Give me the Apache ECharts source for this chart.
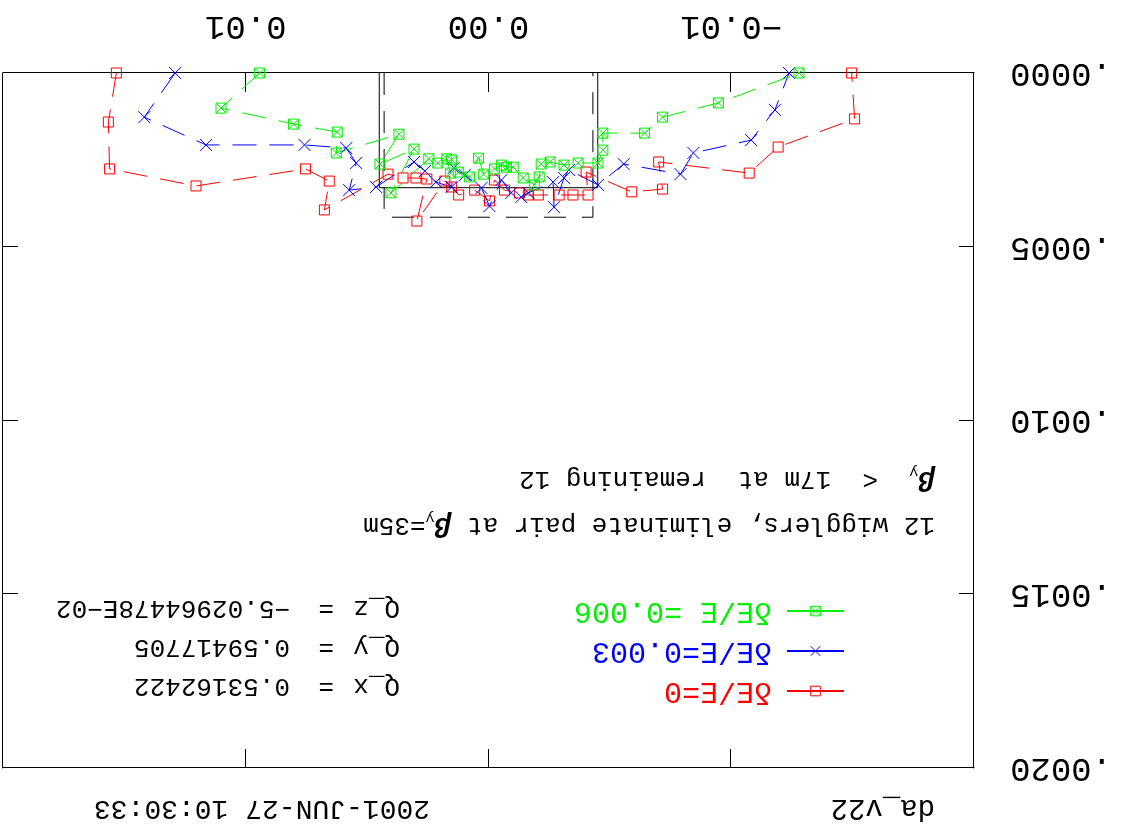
<!DOCTYPE html>
<html><head><meta charset="utf-8">
<script src="https://cdn.jsdelivr.net/npm/echarts@6/dist/echarts.min.js"></script>
<style>
html,body{margin:0;padding:0;background:#fff;overflow:hidden}
#c{width:1126px;height:834px;transform:rotate(180deg);}
</style>
</head><body><div id="c"></div>
<script>
// ---- data ----
const seriesNames = ['δE/E=0', 'δE/E=0.003', 'δE/E =0.006'];

const redX = [0.01533, 0.01566, 0.01561, 0.01205, 0.00754, 0.00656, 0.00676, 0.00414, 0.00352, 0.00299, 0.00254, 0.00295, 0.0018, 0.00152, 0.00123, 0.00057, -0.00004, -0.00025, -0.00066, -0.00127, -0.00164, -0.00205, -0.00291, -0.00348, -0.0041, -0.00402, -0.0059, -0.00717, -0.00701, -0.01074, -0.01193, -0.01508, -0.01496];
const redY = [0, 0.000141, 0.000276, 0.000325, 0.000276, 0.000311, 0.000394, 0.000291, 0.000302, 0.000302, 0.000305, 0.000426, 0.000311, 0.000328, 0.000351, 0.000337, 0.000368, 0.000308, 0.000337, 0.000345, 0.000351, 0.000351, 0.000351, 0.000351, 0.000351, 0.000285, 0.000342, 0.000334, 0.000256, 0.000288, 0.000213, 0.000132, 0];

const blueX = [0.01291, 0.01418, 0.01164, 0.00758, 0.00586, 0.00545, 0.00574, 0.00463, 0.00307, 0.00262, 0.00217, 0.00152, 0.00143, 0.00098, 0.00029, -0.00004, -0.00053, -0.00094, -0.00135, -0.00164, -0.00266, -0.0027, -0.00311, -0.00332, -0.00451, -0.00557, -0.00791, -0.00844, -0.01082, -0.0118, -0.01238];
const blueY = [0, 0.000127, 0.000207, 0.000207, 0.000216, 0.000259, 0.000337, 0.000328, 0.000256, 0.000282, 0.000314, 0.000328, 0.000273, 0.000294, 0.000331, 0.000383, 0.000308, 0.000345, 0.000357, 0.000345, 0.000314, 0.000386, 0.000302, 0.000279, 0.000322, 0.000262, 0.000291, 0.00023, 0.000193, 0.000106, 0];

const greenX = [0.00943, 0.01102, 0.00803, 0.00623, 0.00627, 0.00369, 0.00447, 0.00307, 0.00402, 0.00246, 0.00209, 0.00172, 0.00156, 0.00152, 0.00123, 0.00078, 0.00041, 0.0002, -0.00025, -0.00053, -0.00074, -0.00102, -0.00143, -0.00189, -0.00209, -0.00217, -0.00254, -0.00311, -0.00369, -0.00451, -0.00471, -0.00471, -0.00643, -0.00717, -0.00947, -0.01279];
const greenY = [0, 0.000101, 0.000147, 0.00017, 0.00023, 0.000176, 0.000262, 0.000219, 0.000345, 0.000247, 0.000259, 0.000247, 0.000288, 0.00025, 0.000285, 0.000299, 0.000245, 0.000291, 0.000276, 0.000265, 0.000271, 0.000271, 0.000302, 0.000322, 0.000299, 0.000262, 0.000256, 0.000265, 0.000259, 0.000259, 0.000222, 0.000173, 0.000173, 0.000127, 0.000086, 0];

const boxSolidX = [0.0045, 0.0045, -0.0045, -0.0045];
const boxSolidY = [0, 0.00033, 0.00033, 0];
const boxDashX = [0.0043, 0.0043, -0.0043, -0.0043];
const boxDashY = [0, 0.000415, 0.000415, 0];

const xTickValues = [-0.02, -0.01, 0, 0.01, 0.02];
const xTickLabels = ['', '−0.01', '0.00', '0.01', ''];
const yTickValues = [0, 0.0005, 0.001, 0.0015, 0.002];
const yTickLabels = ['.0000', '.0005', '.0010', '.0015', '.0020'];

const qLabels = ['Q_x', 'Q_y', 'Q_z'];
const qValues = ['0.53162422', '0.59417705', '−5.02964478E−02'];
const subtitle1 = ['12 wigglers, eliminate pair at ', 'β', 'y', '=35m'];
const subtitle2 = ['β', 'y', '  <  17m at  remaining 12'];
const footerLeft = 'da_v22';
const footerRight = '2001-JUN-27 10:30:33';

// ---- chart ----
const FONT = '"Liberation Mono", "DejaVu Sans Mono", monospace';
const RED = '#ff0000', BLUE = '#0000ff', GREEN = '#00f000';
const chart = echarts.init(document.getElementById('c'), null, {renderer: 'canvas'});

function pairs(xs, ys) { return xs.map((x, i) => [x, ys[i]]); }
function nearestLabel(vals, labels, v) {
  let best = 0;
  for (let i = 1; i < vals.length; i++) if (Math.abs(vals[i] - v) < Math.abs(vals[best] - v)) best = i;
  return labels[best];
}
function dataSeries(name, xs, ys, color, symbol, size) {
  return {
    type: 'line', name: name, data: pairs(xs, ys),
    symbol: symbol, symbolSize: size, showAllSymbol: true,
    lineStyle: {color: color, width: 1, type: [24, 13]},
    itemStyle: {color: 'rgba(0,0,0,0)', borderColor: color, borderWidth: 1},
    emphasis: {disabled: true}, animation: false
  };
}
function boxSeries(xs, ys, type) {
  return {
    type: 'line', data: pairs(xs, ys), symbol: 'none', silent: true,
    lineStyle: {color: '#000', width: 1, type: type}, animation: false, z: 1
  };
}

const axisLine = {show: true, onZero: false, lineStyle: {color: '#000', width: 1}};
const option = {
  backgroundColor: '#fff',
  animation: false,
  grid: {left: 152, right: 1, top: 66, bottom: 73, show: false},
  xAxis: [
    {type: 'value', min: -0.02, max: 0.02, interval: 0.01, position: 'bottom',
     axisLine: axisLine, axisTick: {show: true, inside: true, length: 19, lineStyle: {color: '#000', width: 1}},
     splitLine: {show: false},
     axisLabel: {show: true, margin: 30, fontSize: 34, color: '#000', fontFamily: FONT,
       formatter: v => nearestLabel(xTickValues, xTickLabels, v)}},
    {type: 'value', min: -0.02, max: 0.02, interval: 0.01, position: 'top',
     axisLine: axisLine, axisTick: {show: true, inside: true, length: 19, lineStyle: {color: '#000', width: 1}},
     splitLine: {show: false}, axisLabel: {show: false}}
  ],
  yAxis: [
    {type: 'value', min: 0, max: 0.002, interval: 0.0005, position: 'left',
     axisLine: axisLine, axisTick: {show: true, inside: true, length: 15, lineStyle: {color: '#000', width: 1}},
     splitLine: {show: false},
     axisLabel: {show: true, margin: 36, fontSize: 34, color: '#000', fontFamily: FONT,
       formatter: v => nearestLabel(yTickValues, yTickLabels, v)}},
    {type: 'value', min: 0, max: 0.002, interval: 0.0005, position: 'right',
     axisLine: axisLine, axisTick: {show: true, inside: true, length: 15, lineStyle: {color: '#000', width: 1}},
     splitLine: {show: false}, axisLabel: {show: false}}
  ],
  legend: {
    orient: 'vertical', left: 281, top: 128, padding: 0,
    itemWidth: 57, itemHeight: 12, itemGap: 10, selectedMode: false,
    lineStyle: {type: 'solid'},
    itemStyle: {color: 'rgba(0,0,0,0)', borderWidth: 1},
    textStyle: {fontFamily: FONT, fontSize: 30, lineHeight: 28, padding: [0, 0, 0, 10]},
    data: [
      {name: seriesNames[0], textStyle: {color: RED}},
      {name: seriesNames[1], textStyle: {color: BLUE}},
      {name: seriesNames[2], textStyle: {color: GREEN}}
    ]
  },
  series: [
    boxSeries(boxSolidX, boxSolidY, 'solid'),
    boxSeries(boxDashX, boxDashY, [22, 16]),
    dataSeries(seriesNames[0], redX, redY, RED, 'rect', 10),
    dataSeries(seriesNames[1], blueX, blueY, BLUE, 'path://M0 0L10 10M10 0L0 10', 12),
    dataSeries(seriesNames[2], greenX, greenY, GREEN, 'path://M0 0H10V10H0ZM0 0L10 10M10 0L0 10', 10)
  ],
  graphic: [
    {type: 'text', x: 191, y: 26, style: {text: footerLeft, font: '29px ' + FONT, fill: '#000', verticalAlign: 'middle'}},
    {type: 'text', x: 696, y: 26, style: {text: footerRight, font: '28px ' + FONT, fill: '#000', verticalAlign: 'middle'}},
    {type: 'text', x: 191, y: 309, style: {
      text: '{t|' + subtitle1[0] + '}{b|' + subtitle1[1] + '}{s|' + subtitle1[2] + '}{t|' + subtitle1[3] + '}',
      verticalAlign: 'middle', fill: '#000',
      rich: {t: {fontSize: 26, fontFamily: FONT, fill: '#000'},
             b: {fontSize: 28, fontFamily: FONT, fontStyle: 'italic', fontWeight: 'bold', fill: '#000'},
             s: {fontSize: 15, fontFamily: FONT, fill: '#000', verticalAlign: 'bottom', padding: [14, 0, 0, 0]}}}},
    {type: 'text', x: 191, y: 355, style: {
      text: '{b|' + subtitle2[0] + '}{s|' + subtitle2[1] + '}{t|' + subtitle2[2] + '}',
      verticalAlign: 'middle', fill: '#000',
      rich: {t: {fontSize: 26, fontFamily: FONT, fill: '#000'},
             b: {fontSize: 28, fontFamily: FONT, fontStyle: 'italic', fontWeight: 'bold', fill: '#000'},
             s: {fontSize: 15, fontFamily: FONT, fill: '#000', verticalAlign: 'bottom', padding: [14, 0, 0, 0]}}}}
  ].concat(qLabels.flatMap((q, i) => {
    const y = 148 + i * 39;
    return [
      {type: 'text', x: 726, y: y, style: {text: q, font: '26px ' + FONT, fill: '#000', verticalAlign: 'middle'}},
      {type: 'text', x: 792, y: y, style: {text: '=', font: '26px ' + FONT, fill: '#000', verticalAlign: 'middle'}},
      {type: 'text', x: 836, y: y, style: {text: qValues[i], font: '26px ' + FONT, fill: '#000', verticalAlign: 'middle'}}
    ];
  }))
};
chart.setOption(option);
</script>
</body></html>
